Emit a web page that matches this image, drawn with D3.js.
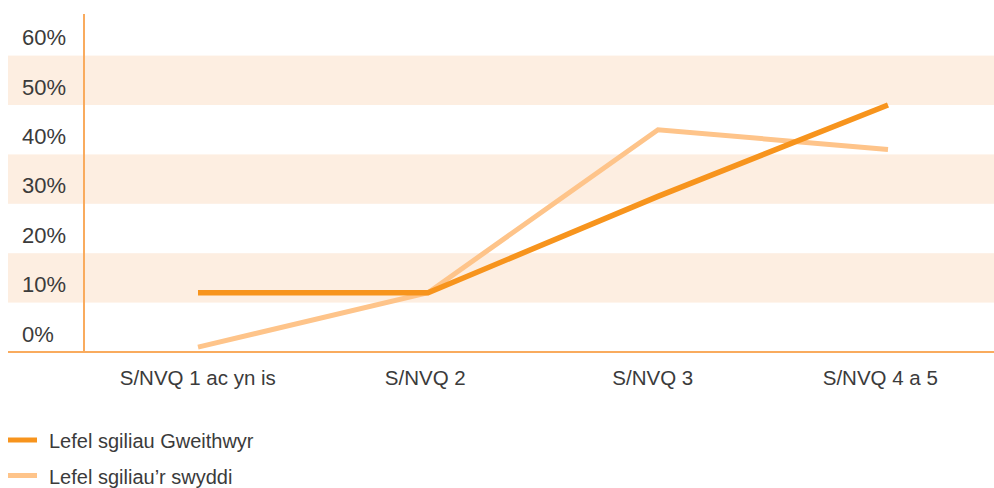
<!DOCTYPE html>
<html>
<head>
<meta charset="utf-8">
<script src="https://cdn.jsdelivr.net/npm/d3@7"></script>
<style>
  body { margin: 0; background: #fff; }
  svg text { font-family: "Liberation Sans", Arial, sans-serif; fill: #3b3b3b; }
</style>
</head>
<body>
<div id="chart"></div>
<script>
const width = 994;
const height = 488;

const categories = ["S/NVQ 1 ac yn is", "S/NVQ 2", "S/NVQ 3", "S/NVQ 4 a 5"];
const workers = [12, 12, 31.5, 50];   // Lefel sgiliau Gweithwyr
const jobs = [1, 12, 45, 41];         // Lefel sgiliau'r swyddi
const yTicks = [0, 10, 20, 30, 40, 50, 60];
const bandStarts = [10, 30, 50];
const seriesNames = ["Lefel sgiliau Gweithwyr", "Lefel sgiliau\u2019r swyddi"];
const seriesColors = ["#f7941d", "#fec48a"];

const svg = d3.select("#chart").append("svg")
  .attr("width", width)
  .attr("height", height);

const y = d3.scaleLinear().domain([0, 70]).range([352, 6.2]);
// labels sit on band centres, the lines are drawn slightly to the right
const xLabel = d3.scaleBand().domain(categories).range([84, 994]);
const xPt = d3.scalePoint().domain(categories).range([198, 888]);

// shaded bands
svg.append("g").selectAll("rect")
  .data(bandStarts)
  .join("rect")
  .attr("x", 8)
  .attr("width", width - 8)
  .attr("y", d => y(d + 10))
  .attr("height", d => y(d) - y(d + 10))
  .attr("fill", "#fdeee1");

// y labels
const yAxis = svg.append("g")
  .attr("transform", "translate(22,0)")
  .call(d3.axisRight(y).tickValues(yTicks).tickSize(0).tickFormat(d => d + "%"));
yAxis.select(".domain").remove();
yAxis.selectAll("text")
  .attr("x", 0)
  .attr("dy", -11)
  .attr("text-anchor", "start")
  .style("font-size", "22px");

// x labels
const xAxis = svg.append("g")
  .attr("transform", "translate(0,385)")
  .call(d3.axisBottom(xLabel).tickSize(0));
xAxis.select(".domain").remove();
xAxis.selectAll("text")
  .attr("y", 0)
  .attr("dy", 0)
  .style("font-size", "20.5px");

// axis lines
svg.append("line")
  .attr("x1", 84).attr("x2", 84)
  .attr("y1", 14).attr("y2", y(0))
  .attr("stroke", "#f9ab5e").attr("stroke-width", 2);
svg.append("line")
  .attr("x1", 8).attr("x2", width)
  .attr("y1", y(0)).attr("y2", y(0))
  .attr("stroke", "#f9ab5e").attr("stroke-width", 2);

const line = d3.line()
  .x((d, i) => xPt(categories[i]))
  .y(d => y(d));

svg.append("path")
  .datum(jobs)
  .attr("d", line)
  .attr("fill", "none")
  .attr("stroke", seriesColors[1])
  .attr("stroke-width", 5);

svg.append("path")
  .datum(workers)
  .attr("d", line)
  .attr("fill", "none")
  .attr("stroke", seriesColors[0])
  .attr("stroke-width", 5.5);

// legend
const legend = svg.append("g").selectAll("g")
  .data(seriesNames)
  .join("g")
  .attr("transform", (d, i) => `translate(8,${440 + i * 35.5})`);
legend.append("line")
  .attr("x1", 0).attr("x2", 29)
  .attr("stroke", (d, i) => seriesColors[i])
  .attr("stroke-width", 5);
legend.append("text")
  .attr("x", 41)
  .attr("y", 8)
  .style("font-size", "20px")
  .text(d => d);
</script>
</body>
</html>
